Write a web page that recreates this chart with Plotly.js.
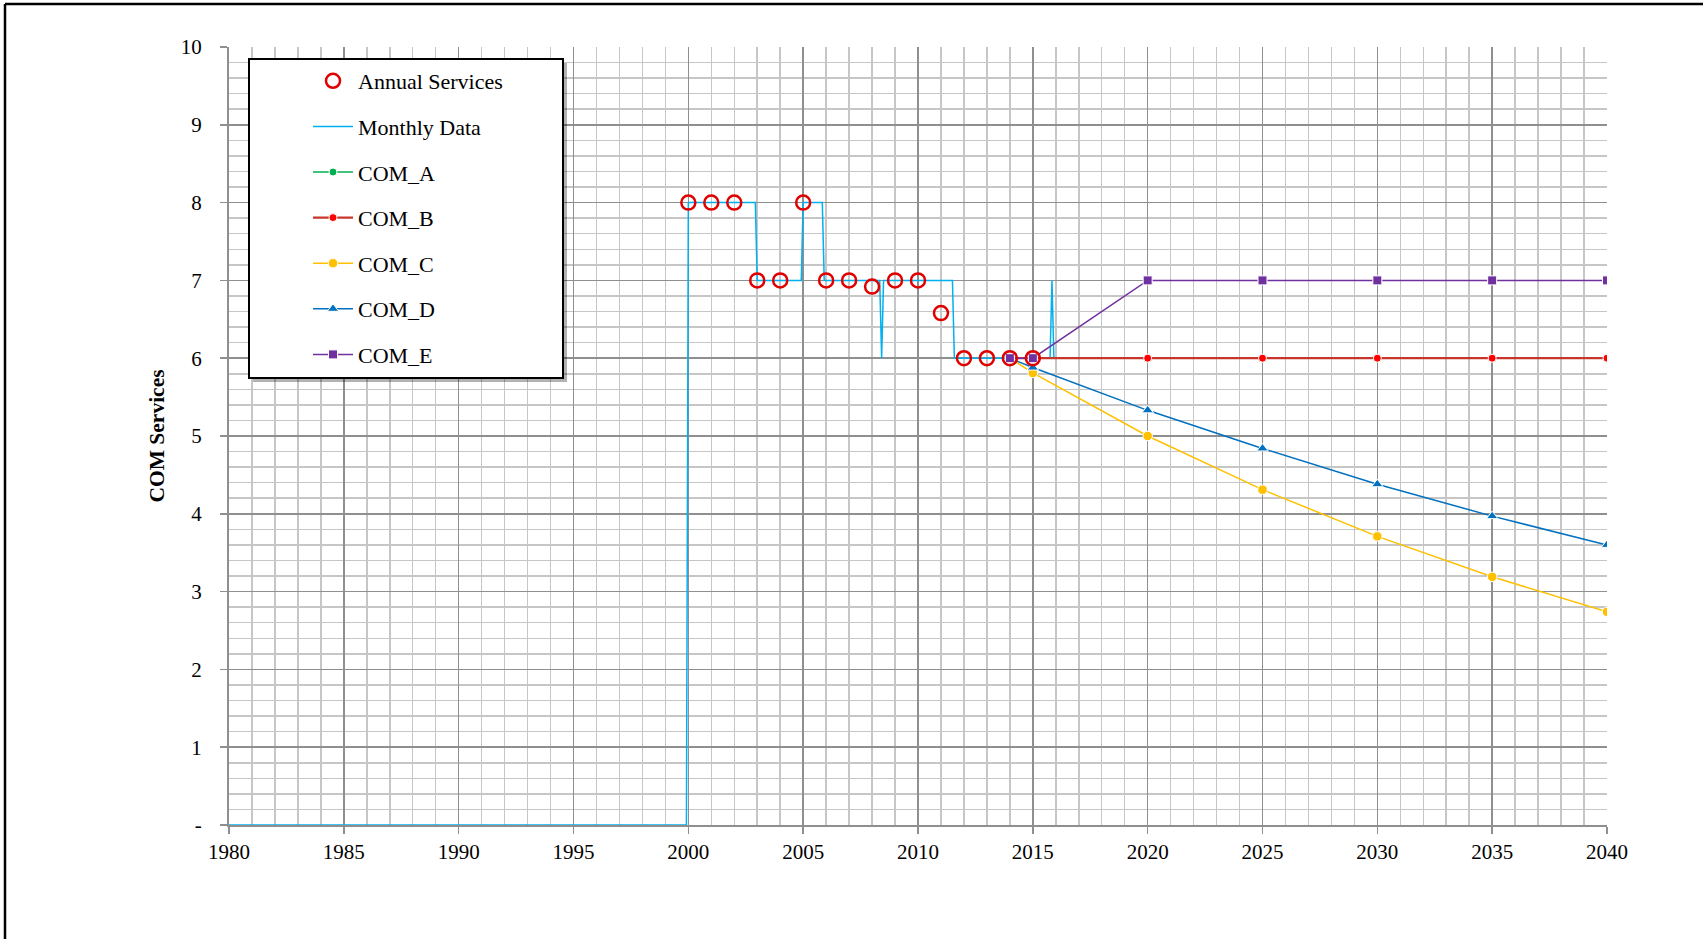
<!DOCTYPE html>
<html>
<head>
<meta charset="utf-8">
<script src="https://cdn.plot.ly/plotly-3.0.1.min.js"></script>
<style>html,body{margin:0;padding:0;background:#fff;}#chart{width:1703px;height:939px;}</style>
</head>
<body>
<div id="chart"></div>
<script>
// ---- Data ----
const annualYears = [2000, 2001, 2002, 2003, 2004, 2005, 2006, 2007, 2008, 2009, 2010, 2011, 2012, 2013, 2014, 2015];
const annualValues = [8, 8, 8, 7, 7, 8, 7, 7, 6.92, 7, 7, 6.58, 6, 6, 6, 6];

// monthly series, change points (decimal year)
const monthlyX = [1980, 1999.917, 2000, 2002.917, 2003, 2004.917, 2005, 2005.833, 2005.917, 2008.333, 2008.417, 2008.5, 2011.5, 2011.583, 2015.75, 2015.833, 2015.917];
const monthlyY = [0, 0, 8, 8, 7, 7, 8, 8, 7, 7, 6, 7, 7, 6, 6, 7, 6];

const projYears = [2014, 2015, 2020, 2025, 2030, 2035, 2040];
const comA = [6, 6, 6, 6, 6, 6, 6];
const comB = [6, 6, 6, 6, 6, 6, 6];
const comC = [6, 5.81, 5.00, 4.31, 3.71, 3.19, 2.74];
const comD = [6, 5.88, 5.33, 4.84, 4.38, 3.97, 3.60];
const comE = [6, 6, 7, 7, 7, 7, 7];

const yTickVals = [0, 1, 2, 3, 4, 5, 6, 7, 8, 9, 10];
const yTickText = ['-', '1', '2', '3', '4', '5', '6', '7', '8', '9', '10'];
const xTickVals = [1980, 1985, 1990, 1995, 2000, 2005, 2010, 2015, 2020, 2025, 2030, 2035, 2040];

// ---- geometry helpers (pixel -> paper) ----
const L = 229, R = 1607, T = 47, B = 825;
const px = v => (v - L) / (R - L);
const py = v => (B - v) / (B - T);

const FONT = 'Liberation Serif, Times New Roman, serif';

const traces = [
  {name: 'Monthly Data', x: monthlyX, y: monthlyY, mode: 'lines',
   line: {color: '#00B0F0', width: 1.5}, legendrank: 2, legendgroup: 'g2'},
  {name: 'COM_A', x: projYears, y: comA, mode: 'lines+markers',
   line: {color: '#00B050', width: 1.5},
   marker: {symbol: 'circle', size: 8, color: '#00B050', line: {color: '#fff', width: 1}},
   legendrank: 3, legendgroup: 'g3'},
  {name: 'COM_B', x: projYears, y: comB, mode: 'lines+markers',
   line: {color: '#C8352A', width: 2.2},
   marker: {symbol: 'circle', size: 8, color: '#FF0000', line: {color: '#fff', width: 1}},
   legendrank: 4, legendgroup: 'g4'},
  {name: 'COM_C', x: projYears, y: comC, mode: 'lines+markers',
   line: {color: '#FFC000', width: 1.5},
   marker: {symbol: 'octagon', size: 10, color: '#FFC000', line: {color: '#fff', width: 1}},
   legendrank: 5, legendgroup: 'g5'},
  {name: 'COM_D', x: projYears, y: comD, mode: 'lines+markers',
   line: {color: '#0070C0', width: 1.5},
   marker: {symbol: 'triangle-up', size: 10, color: '#0070C0', line: {color: '#fff', width: 1}},
   legendrank: 6, legendgroup: 'g6'},
  {name: 'COM_E', x: projYears, y: comE, mode: 'lines+markers',
   line: {color: '#7030A0', width: 1.5},
   marker: {symbol: 'square', size: 9, color: '#7030A0', line: {color: '#fff', width: 1}},
   legendrank: 7, legendgroup: 'g7'},
  {name: 'Annual Services', x: annualYears, y: annualValues, mode: 'markers',
   marker: {symbol: 'circle-open', size: 14, color: '#E00000', line: {color: '#E00000', width: 2.5}},
   legendrank: 1, legendgroup: 'g1'}
];

const layout = {
  width: 1703, height: 939,
  margin: {l: L, r: 1703 - R, t: T, b: 939 - B},
  paper_bgcolor: '#fff', plot_bgcolor: '#fff',
  font: {family: FONT, color: '#000', size: 21},
  showlegend: true,
  legend: {
    x: px(308), y: py(60), xanchor: 'left', yanchor: 'top',
    bgcolor: 'rgba(0,0,0,0)', borderwidth: 0,
    font: {family: FONT, size: 22, color: '#000'},
    tracegroupgap: 14, itemwidth: 40
  },
  xaxis: {
    range: [1980, 2040], tickmode: 'array', tickvals: xTickVals,
    showgrid: true, gridcolor: '#8f8f8f', gridwidth: 1.5,
    minor: {dtick: 1, tick0: 1980, showgrid: true, gridcolor: '#c6c6c6', gridwidth: 1.5},
    ticks: 'outside', ticklen: 7, tickcolor: '#8f8f8f', tickwidth: 1.5,
    ticklabelstandoff: 0,
    showline: true, linecolor: '#8f8f8f', linewidth: 2, zeroline: false,
    tickfont: {family: FONT, size: 21}
  },
  yaxis: {
    range: [0, 10], tickmode: 'array', tickvals: yTickVals, ticktext: yTickText,
    showgrid: true, gridcolor: '#8f8f8f', gridwidth: 1.5,
    minor: {dtick: 0.2, tick0: 0, showgrid: true, gridcolor: '#c6c6c6', gridwidth: 1.5},
    ticks: 'outside', ticklen: 7, tickcolor: '#8f8f8f', tickwidth: 1.5,
    ticklabelstandoff: 14,
    showline: true, linecolor: '#8f8f8f', linewidth: 2, zeroline: false,
    tickfont: {family: FONT, size: 21},
    title: {text: '<b>COM Services</b>', font: {family: FONT, size: 21.5}, standoff: 10}
  },
  shapes: [
    // outer frame (left and top edges visible)
    {type: 'line', xref: 'paper', yref: 'paper', x0: px(5), x1: px(5), y0: py(960), y1: py(4), line: {color: '#000', width: 2.5}},
    {type: 'line', xref: 'paper', yref: 'paper', x0: px(5), x1: px(1720), y0: py(4), y1: py(4), line: {color: '#000', width: 2.5}},
    // legend shadow and box
    {type: 'rect', xref: 'paper', yref: 'paper', layer: 'above', x0: px(253), x1: px(567), y0: py(382), y1: py(63), fillcolor: 'rgba(0,0,0,0.3)', line: {width: 0}},
    {type: 'rect', xref: 'paper', yref: 'paper', layer: 'above', x0: px(249), x1: px(563), y0: py(378), y1: py(59), fillcolor: '#fff', line: {color: '#000', width: 2}}
  ]
};

Plotly.newPlot('chart', traces, layout, {displayModeBar: false, staticPlot: true});
</script>
</body>
</html>
